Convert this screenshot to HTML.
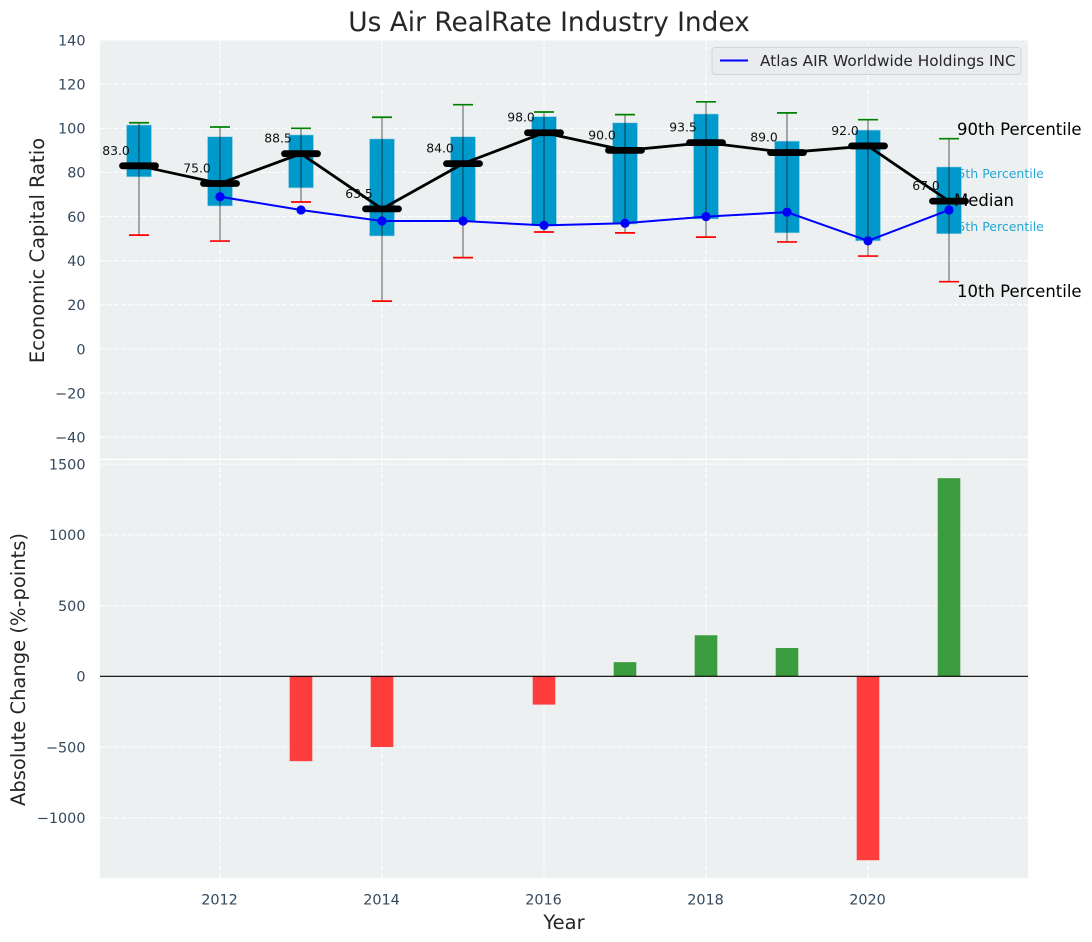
<!DOCTYPE html>
<html>
<head>
<meta charset="utf-8">
<style>
html,body{margin:0;padding:0;background:#fff;width:1092px;height:942px;overflow:hidden}
svg{display:block;font-family:"DejaVu Sans","Liberation Sans",sans-serif}
</style>
</head>
<body>
<svg id="chart" width="1092" height="942" viewBox="0 0 1092 942" xmlns="http://www.w3.org/2000/svg">
<rect x="100" y="40" width="928" height="419" fill="#ecf0f1"/>
<rect x="100" y="460" width="928" height="418" fill="#ecf0f1"/>
<g id="layer"></g>
<text x="549" y="31" font-size="26.4" fill="#262626" text-anchor="middle">Us Air RealRate Industry Index</text>
<text transform="translate(44,250.5) rotate(-90)" font-size="19.5" fill="#262626" text-anchor="middle">Economic Capital Ratio</text>
<text transform="translate(25,669.5) rotate(-90)" font-size="19.5" fill="#262626" text-anchor="middle">Absolute Change (%-points)</text>
<text x="564" y="929" font-size="19.5" fill="#262626" text-anchor="middle">Year</text>
<g>
<rect x="712" y="47.5" width="309" height="27" rx="3" fill="#e9ebef" stroke="#d2d4d8" stroke-width="1"/>
<line x1="720" y1="60.5" x2="748" y2="60.5" stroke="#0000ff" stroke-width="2"/>
<text x="760" y="66" font-size="15.3" fill="#262626">Atlas AIR Worldwide Holdings INC</text>
</g>
<script>
const years = [2011, 2012, 2013, 2014, 2015, 2016, 2017, 2018, 2019, 2020, 2021];
const p90 = [102.5, 100.6, 100, 105, 110.7, 107.4, 106.2, 112, 107, 103.9, 95.3];
const p75 = [101.5, 96.2, 97, 95.2, 96.2, 105.3, 102.5, 106.5, 94.2, 99.2, 82.5];
const medians = [83, 75, 88.5, 63.5, 84, 98, 90, 93.5, 89, 92, 67];
const p25 = [78, 64.8, 73, 51.2, 57.7, 55.9, 56.6, 58.9, 52.6, 49, 52.2];
const p10 = [51.6, 48.9, 66.6, 21.7, 41.4, 53, 52.6, 50.7, 48.5, 42.1, 30.5];
const companyYears = [2012, 2013, 2014, 2015, 2016, 2017, 2018, 2019, 2020, 2021];
const companyValues = [69, 63, 58, 58, 56, 57, 60, 62, 49, 63];
const changeYears = [2013, 2014, 2016, 2017, 2018, 2019, 2020, 2021];
const changeValues = [-600, -500, -200, 100, 290, 200, -1300, 1400];
const topTicks = [140, 120, 100, 80, 60, 40, 20, 0, -20, -40];
const bottomTicks = [1500, 1000, 500, 0, -500, -1000];
const xTicks = [2012, 2014, 2016, 2018, 2020];

const xS = v => 220 + (v - 2012) * 81;
const yT = v => 349 - v * 2.207;
const yB = v => 676.3 - v * 0.1415;

const layer = document.getElementById('layer');
const NS = 'http://www.w3.org/2000/svg';
function mk(tag, attrs, txt) {
  const el = document.createElementNS(NS, tag);
  for (const k in attrs) el.setAttribute(k, attrs[k]);
  if (txt !== undefined) el.textContent = txt;
  layer.appendChild(el);
  return el;
}
const minus = v => v < 0 ? '\u2212' + Math.abs(v) : String(v);
const gridStyle = {stroke: '#ffffff', 'stroke-width': 1.1, 'stroke-dasharray': '5,2', opacity: 0.9};

topTicks.forEach(t => {
  const g = mk('line', {x1: 100, x2: 1028, y1: yT(t), y2: yT(t), ...gridStyle});
  
  
  const l = mk('text', {x: 85.5, y: yT(t) + 5.3, 'font-size': 14.4, fill: '#34495e', 'text-anchor': 'end'}, minus(t));
  
  
});
bottomTicks.forEach(t => {
  const g = mk('line', {x1: 100, x2: 1028, y1: yB(t), y2: yB(t), ...gridStyle});
  
  
  const l = mk('text', {x: 85.5, y: yB(t) + 5.3, 'font-size': 14.4, fill: '#34495e', 'text-anchor': 'end'}, minus(t));
  
  
});
xTicks.forEach(t => {
  const g1 = mk('line', {x1: xS(t), x2: xS(t), y1: 40, y2: 459, ...gridStyle});
  
  
  const g2 = mk('line', {x1: xS(t), x2: xS(t), y1: 460, y2: 878, ...gridStyle});
  
  
  const l = mk('text', {x: xS(t) - 0.5, y: 904.5, 'font-size': 14.4, fill: '#34495e', 'text-anchor': 'middle'}, String(t));
  
  
});

const last = years.length - 1;
const xLast = xS(years[last]);
const note75 = mk('text', {x: xLast + 0.5, y: yT(p75[last]) + 11, 'font-size': 12.5, fill: '#0099cc', opacity: 0.85}, '75th Percentile');


const note25 = mk('text', {x: xLast + 0.5, y: yT(p25[last]) - 3, 'font-size': 12.5, fill: '#0099cc', opacity: 0.85}, '25th Percentile');



years.forEach((yr, i) => {
  const x = xS(yr);
  const box = mk('rect', {x: x - 12.5, width: 25, y: yT(p75[i]), height: yT(p25[i]) - yT(p75[i]), fill: '#0099cc', stroke: '#add8e6', 'stroke-width': 0.6});
  
  
  const w = mk('line', {x1: x, x2: x, y1: yT(p90[i]), y2: yT(p10[i]), stroke: '#000000', 'stroke-opacity': 0.42, 'stroke-width': 1.5});
  
  
  const hi = mk('line', {x1: x - 10, x2: x + 10, y1: yT(p90[i]), y2: yT(p90[i]), stroke: '#008000', 'stroke-width': 1.7});
  
  
  const lo = mk('line', {x1: x - 10, x2: x + 10, y1: yT(p10[i]), y2: yT(p10[i]), stroke: '#ff0000', 'stroke-width': 1.7});
  
  
  const lab = mk('text', {x: x - 23, y: yT(medians[i]) - 11, 'font-size': 12.4, fill: '#111111', 'text-anchor': 'middle'}, medians[i].toFixed(1));
  
  
});

const companyLine = mk('polyline', {points: companyYears.map((y, i) => xS(y) + ',' + yT(companyValues[i])).join(' '), fill: 'none', stroke: '#0000ff', 'stroke-width': 2});


companyYears.forEach((y, i) => {
  const c = mk('circle', {cx: xS(y), cy: yT(companyValues[i]), r: 4.6, fill: '#0000ff'});
  
  
});

const n90 = mk('text', {x: xLast + 8, y: 135, 'font-size': 16.5, fill: '#000000'}, '90th Percentile');


const n50 = mk('text', {x: xLast + 5, y: 206, 'font-size': 16.5, fill: '#000000'}, 'Median');


const n10 = mk('text', {x: xLast + 8, y: 297, 'font-size': 16.5, fill: '#000000'}, '10th Percentile');



const medianLine = mk('polyline', {points: years.map((y, i) => xS(y) + ',' + yT(medians[i])).join(' '), fill: 'none', stroke: '#000000', 'stroke-width': 2.8});


years.forEach((yr, i) => {
  const m = mk('line', {x1: xS(yr) - 16.5, x2: xS(yr) + 16.5, y1: yT(medians[i]), y2: yT(medians[i]), stroke: '#000000', 'stroke-width': 6.8, 'stroke-linecap': 'round'});
  
  
});

const sep = mk('rect', {x: 100, y: 458.5, width: 928, height: 1.5, fill: '#ffffff'});



changeYears.forEach((yr, i) => {
  const v = changeValues[i];
  const y0 = yB(Math.max(v, 0));
  const y1 = yB(Math.min(v, 0));
  const b = mk('rect', {x: xS(yr) - 11.3, width: 22.6, y: y0, height: y1 - y0, fill: v < 0 ? '#ff3d3d' : '#3a9c3e'});
  
  
});
const zero = mk('line', {x1: 100, x2: 1028, y1: yB(0), y2: yB(0), stroke: '#000000', 'stroke-width': 1.2});


</script>
</svg>
</body>
</html>
